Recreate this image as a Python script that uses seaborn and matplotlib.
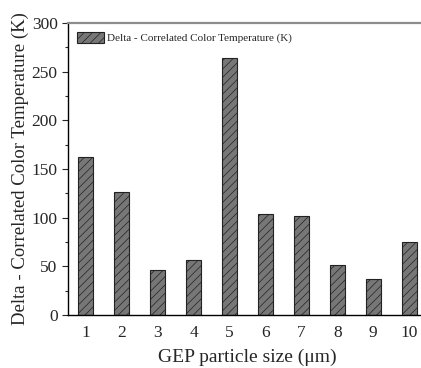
import numpy as np
import pandas as pd
import matplotlib
matplotlib.use("Agg")
import matplotlib.pyplot as plt
from matplotlib.patches import Patch
from matplotlib.ticker import MultipleLocator
import seaborn as sns

#%% data
sizes = ["1", "2", "3", "4", "5", "6", "7", "8", "9", "10"]
delta_cct = [162, 126, 46, 56, 264, 104, 102, 51, 37, 75]
series_name = "Delta - Correlated Color Temperature (K)"

df = pd.DataFrame({"size": sizes, "delta": delta_cct})

#%% style
sns.set_style("ticks")
plt.rcParams["font.family"] = ["Liberation Serif", "DejaVu Serif"]
plt.rcParams["hatch.linewidth"] = 0.5
plt.rcParams["hatch.color"] = "#1a1a1a"

fig = plt.figure(figsize=(4.21, 3.68), dpi=100)
ax = fig.add_axes([0.1615, 0.144, 0.853, 0.7935])

bar_color = "#777777"
sns.barplot(data=df, x="size", y="delta", color=bar_color, saturation=1,
            width=0.42, edgecolor="#222222", linewidth=0.8, ax=ax)
for p in ax.patches:
    p.set_hatch("////")

ax.set_xlim(-0.5, 9.5)
ax.set_ylim(0, 300)
ax.yaxis.set_major_locator(MultipleLocator(50))
ax.yaxis.set_minor_locator(MultipleLocator(25))
ax.tick_params(axis="y", which="major", direction="out", length=4, width=0.8, labelsize=12.5)
ax.tick_params(axis="y", which="minor", direction="out", length=2, width=0.8)
ax.tick_params(axis="x", length=0, labelsize=12.5, pad=7)

ax.set_xlabel("GEP particle size (μm)", fontsize=14, labelpad=6)
ax.set_ylabel(series_name, fontsize=13.5, labelpad=2)

for side in ["left", "bottom"]:
    ax.spines[side].set_color("black")
    ax.spines[side].set_linewidth(1.0)
ax.spines["top"].set_color("#8c8c8c")
ax.spines["top"].set_linewidth(1.6)
ax.spines["right"].set_visible(False)

handle = Patch(facecolor=bar_color, edgecolor="#222222", hatch="////", linewidth=0.8)
ax.legend([handle], [series_name], loc="upper left", frameon=False, fontsize=8,
          handlelength=2.4, handleheight=1.1, handletextpad=0.3,
          borderaxespad=0.4, bbox_to_anchor=(0.0, 1.0))

fig.savefig("out.png", dpi=100)
